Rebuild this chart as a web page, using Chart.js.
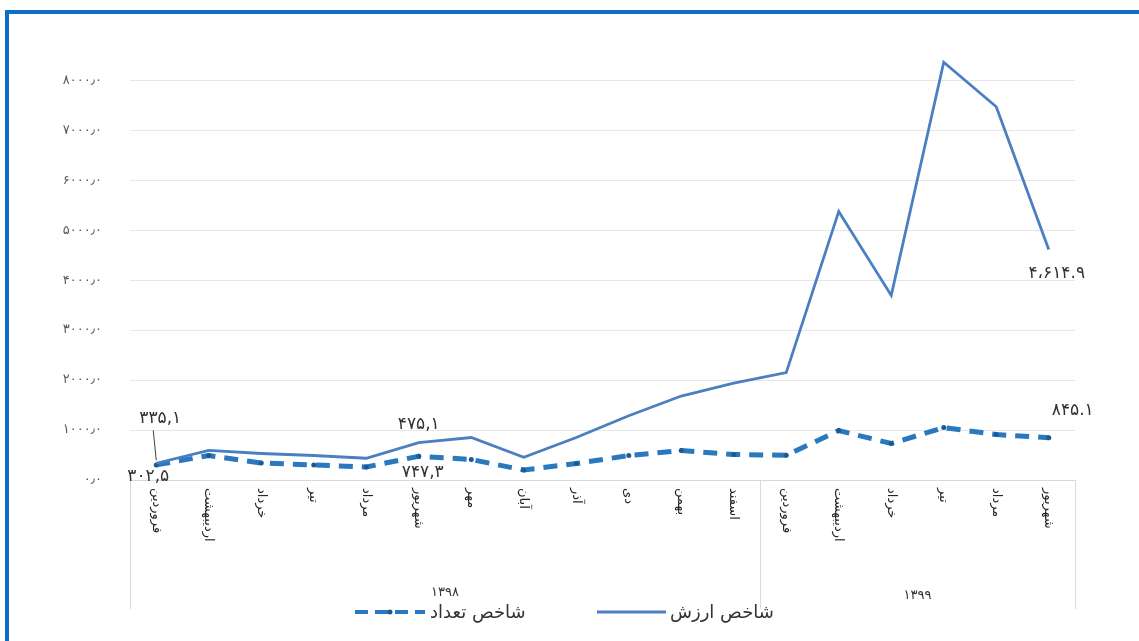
<!DOCTYPE html>
<html>
<head>
<meta charset="utf-8">
<script src="https://cdn.jsdelivr.net/npm/chart.js@4/dist/chart.umd.min.js"></script>
<style>
  body { margin: 0; background: #fff; }
  #wrap { position: relative; width: 1139px; height: 641px; overflow: hidden; }
  #frame { position: absolute; left: 5px; top: 10px; right: -10px; bottom: -10px;
           border-left: 4px solid #0b6fc6; border-top: 4px solid #0b6fc6; }
  canvas { position: absolute; left: 0; top: 0; }
</style>
</head>
<body>
<div id="wrap">
  <div id="frame"></div>
  <canvas id="myChart" width="1139" height="641"></canvas>
</div>
<script>
// months of 1398 (12) and 1399 (6)
var months = ['فروردین', 'اردیبهشت', 'خرداد', 'تیر', 'مرداد', 'شهریور', 'مهر', 'آبان', 'آذر', 'دی', 'بهمن', 'اسفند',
              'فروردین', 'اردیبهشت', 'خرداد', 'تیر', 'مرداد', 'شهریور']
var years = ['۱۳۹۸', '۱۳۹۹']
var yearSpans = [12, 6]

var countIndex = [302.5, 490, 340, 300, 260, 475.1, 410, 200, 330, 490, 590, 510, 495, 990, 730, 1050, 910, 845.1]
var valueIndex = [335.1, 593, 530, 490, 435, 747.3, 850, 455, 850, 1285, 1680, 1940, 2150, 5375, 3695, 8360, 7470, 4614.9]
var seriesNames = ['شاخص تعداد', 'شاخص ارزش']

var yTicks = [0, 1000, 2000, 3000, 4000, 5000, 6000, 7000, 8000]

// data labels shown on the chart: dataset, point, text
var pointLabels = [
  [1, 0, '۳۳۵,۱'],
  [0, 0, '۳۰۲,۵'],
  [0, 5, '۴۷۵,۱'],
  [1, 5, '۷۴۷,۳'],
  [0, 17, '۸۴۵.۱'],
  [1, 17, '۴،۶۱۴.۹']
]
var labelOffsets = [[4, -45], [-8, 12], [0, -32], [4, 30], [24, -27], [8, 24]]

var countColor = '#2a78bd'
var valueColor = '#4a7fc1'
var textColor = '#333333'
var faFont = '"DejaVu Sans", sans-serif'

function toFa(s) {
  return String(s).replace(/[0-9]/g, function(d) { return '۰۱۲۳۴۵۶۷۸۹'[d] })
}

var extrasPlugin = {
  id: 'extras',
  afterDraw: function(chart) {
    var ctx = chart.ctx
    var x = chart.scales.x
    var area = chart.chartArea
    var step = (area.right - area.left) / months.length

    // month labels, rotated clockwise
    ctx.save()
    ctx.fillStyle = '#262626'
    ctx.font = '13px ' + faFont
    ctx.textBaseline = 'middle'
    ctx.textAlign = 'left'
    months.forEach(function(m, i) {
      ctx.save()
      ctx.translate(x.getPixelForTick(i), area.bottom + 8)
      ctx.rotate(Math.PI / 2)
      ctx.fillText(m, 0, 0)
      ctx.restore()
    })
    ctx.restore()

    // year groups
    ctx.save()
    ctx.strokeStyle = '#d9d9d9'
    ctx.lineWidth = 1
    ctx.fillStyle = textColor
    ctx.font = '13px ' + faFont
    ctx.textAlign = 'center'
    ctx.textBaseline = 'middle'
    var start = 0
    var edges = [area.left]
    years.forEach(function(y, k) {
      var x0 = area.left + start * step
      var x1 = area.left + (start + yearSpans[k]) * step
      edges.push(x1)
      ctx.fillText(y, (x0 + x1) / 2, area.bottom + 113 + k * 3)
      start += yearSpans[k]
    })
    edges.forEach(function(e) {
      ctx.beginPath()
      ctx.moveTo(Math.round(e) + 0.5, area.bottom)
      ctx.lineTo(Math.round(e) + 0.5, area.bottom + 129)
      ctx.stroke()
    })
    ctx.restore()

    // data labels
    ctx.save()
    ctx.fillStyle = textColor
    ctx.font = '17px ' + faFont
    ctx.textAlign = 'center'
    ctx.textBaseline = 'middle'
    pointLabels.forEach(function(l, i) {
      var pt = chart.getDatasetMeta(l[0]).data[l[1]]
      var off = labelOffsets[i]
      ctx.fillText(l[2], pt.x + off[0], pt.y + off[1])
      if (i === 0) {
        ctx.strokeStyle = '#404040'
        ctx.lineWidth = 1
        ctx.beginPath()
        ctx.moveTo(pt.x - 3, pt.y - 33)
        ctx.lineTo(pt.x, pt.y - 3)
        ctx.stroke()
      }
    })
    ctx.restore()

    // legend
    ctx.save()
    var ly = 612
    ctx.lineWidth = 4
    ctx.strokeStyle = countColor
    ctx.setLineDash([13, 7])
    ctx.beginPath()
    ctx.moveTo(355, ly)
    ctx.lineTo(425, ly)
    ctx.stroke()
    ctx.setLineDash([])
    ctx.fillStyle = '#1b5b94'
    ctx.beginPath()
    ctx.arc(390, ly, 2.5, 0, Math.PI * 2)
    ctx.fill()
    ctx.lineWidth = 3
    ctx.strokeStyle = valueColor
    ctx.beginPath()
    ctx.moveTo(597, ly)
    ctx.lineTo(666, ly)
    ctx.stroke()
    ctx.fillStyle = textColor
    ctx.font = '18px ' + faFont
    ctx.textBaseline = 'middle'
    ctx.textAlign = 'left'
    ctx.fillText(seriesNames[0], 430, ly + 1)
    ctx.fillText(seriesNames[1], 670, ly + 1)
    ctx.restore()
  }
}

var chartData = {
  labels: months,
  datasets: [{
    label: seriesNames[0],
    data: countIndex,
    borderColor: countColor,
    borderWidth: 5,
    borderDash: [14, 9],
    pointRadius: 2.5,
    pointBackgroundColor: '#1b5b94',
    pointBorderWidth: 0,
    order: 2
  }, {
    label: seriesNames[1],
    data: valueIndex,
    borderColor: valueColor,
    borderWidth: 2.8,
    pointRadius: 0,
    order: 1
  }]
}

var chartOptions = {
  responsive: false,
  animation: false,
  layout: { padding: { top: 30, right: 64, left: 0, bottom: 0 } },
  plugins: {
    legend: { display: false },
    tooltip: { enabled: false }
  },
  scales: {
    x: {
      offset: true,
      grid: { display: false },
      border: { color: '#d9d9d9' },
      ticks: { display: false },
      afterFit: function(scale) { scale.height = 161 }
    },
    y: {
      min: 0,
      max: 8890,
      afterBuildTicks: function(scale) {
        scale.ticks = yTicks.map(function(v) { return { value: v } })
      },
      afterFit: function(scale) { scale.width = 130 },
      grid: { color: '#e6e6e6', drawTicks: false },
      border: { display: false },
      ticks: {
        padding: 28,
        color: '#595959',
        font: { family: faFont, size: 13 },
        callback: function(v) { return toFa(v) + '٫' + '۰' }
      }
    }
  }
}

var myChart = new Chart(document.getElementById('myChart'), {
  type: 'line',
  data: chartData,
  options: chartOptions,
  plugins: [extrasPlugin]
})
</script>
</body>
</html>
